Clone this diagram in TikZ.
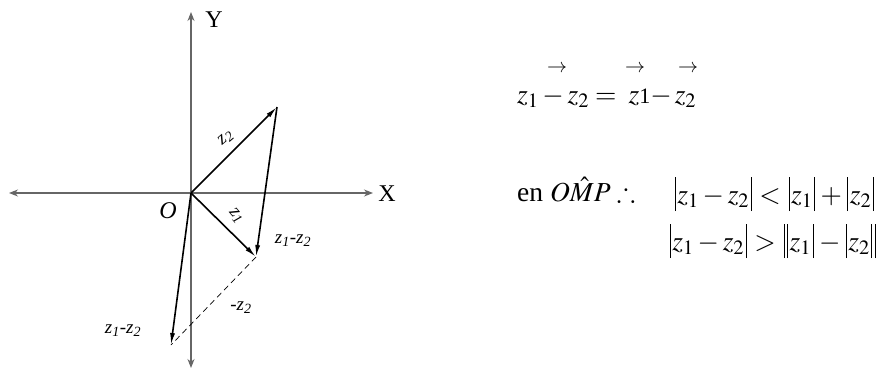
\documentclass[tikz,border=0pt]{standalone}
\usepackage{amsmath}
\usepackage{mathptmx}
\usepackage{amssymb}
\usepackage[no-math]{fontspec}
\setmainfont{Liberation Serif}
\usetikzlibrary{arrows.meta}
\newcommand\vb{\hspace{1.6pt}\rule[-8pt]{1pt}{34pt}\hspace{1.6pt}}
\newcommand\dvb{\hspace{1.6pt}\rule[-8pt]{1pt}{34pt}\hspace{2.5pt}\rule[-8pt]{1pt}{34pt}\hspace{1.6pt}}
\begin{document}
\begin{tikzpicture}[x=1pt,y=-1pt,
  axis/.style={black!60, line width=1.1pt, {Stealth[length=9pt,width=7pt]}-{Stealth[length=9pt,width=7pt]}},
  vec/.style={line width=1.6pt, -{Latex[length=12pt,width=5pt]}},
  lbl/.style={font=\fontsize{19}{21}\selectfont\itshape, inner sep=0pt},
  big/.style={font=\fontsize{24}{28}\selectfont, inner sep=0pt},
  eq/.style={font=\fontsize{27.5}{32}\selectfont, inner sep=0pt, anchor=base west},
  arr/.style={font=\fontsize{20}{22}\selectfont, inner sep=0pt}]
\useasboundingbox (0,0) rectangle (887,369);
% axes
\coordinate (O) at (191,193);
\coordinate (xl) at (9,193);
\coordinate (xr) at (373,193);
\coordinate (yt) at (191,12);
\coordinate (yb) at (191,368);
\draw[axis] (xl) -- (xr);
\draw[axis] (yb) -- (yt);
\node[big] (ylab) at (214,20) {Y};
\node[big] (xlab) at (387,194) {X};
\node[big, font=\fontsize{24}{28}\selectfont\itshape] (olab) at (168,211) {O};
% vectors
\coordinate (Z2) at (277,107);
\coordinate (Z1) at (256,257);
\coordinate (D) at (171,345);
\draw[vec] (O) -- (Z2);
\draw[vec] (O) -- (Z1);
\draw[vec] (Z2) -- (Z1);
\draw[vec] (O) -- (D);
\draw[dashed, line width=0.7pt, dash pattern=on 6pt off 4pt] (Z1) -- (D);
\node[lbl, rotate=40] (l2) at (226,138) {z\textsubscript{2}};
\node[lbl, rotate=-50] (l1) at (236,216) {z\textsubscript{1}};
\node[lbl] (l3) at (293,241) {z\textsubscript{1}-z\textsubscript{2}};
\node[lbl] (l4) at (241,308) {-z\textsubscript{2}};
\node[lbl] (l5) at (123,331) {z\textsubscript{1}-z\textsubscript{2}};
% right text
\node[eq] (e1) at (517,103) {$z_1 - z_2 = \;z\mbox{\fontsize{22}{24}\selectfont 1}{-}\,z_2$};
\node[arr] (a1) at (557,69) {$\rightarrow$};
\node[arr] (a2) at (635,69) {$\rightarrow$};
\node[arr] (a3) at (688,69) {$\rightarrow$};
\node[eq] (e2) at (517,201) {en $O\hat{M}P \therefore$};
\node[eq] (e3) at (673,203) {$\vb z_1 - z_2\vb < \vb z_1\vb + \vb z_2\vb$};
\node[eq] (e4) at (668,250) {$\vb z_1 - z_2\vb > \dvb z_1\vb - \vb z_2\dvb$};
\end{tikzpicture}
\end{document}
